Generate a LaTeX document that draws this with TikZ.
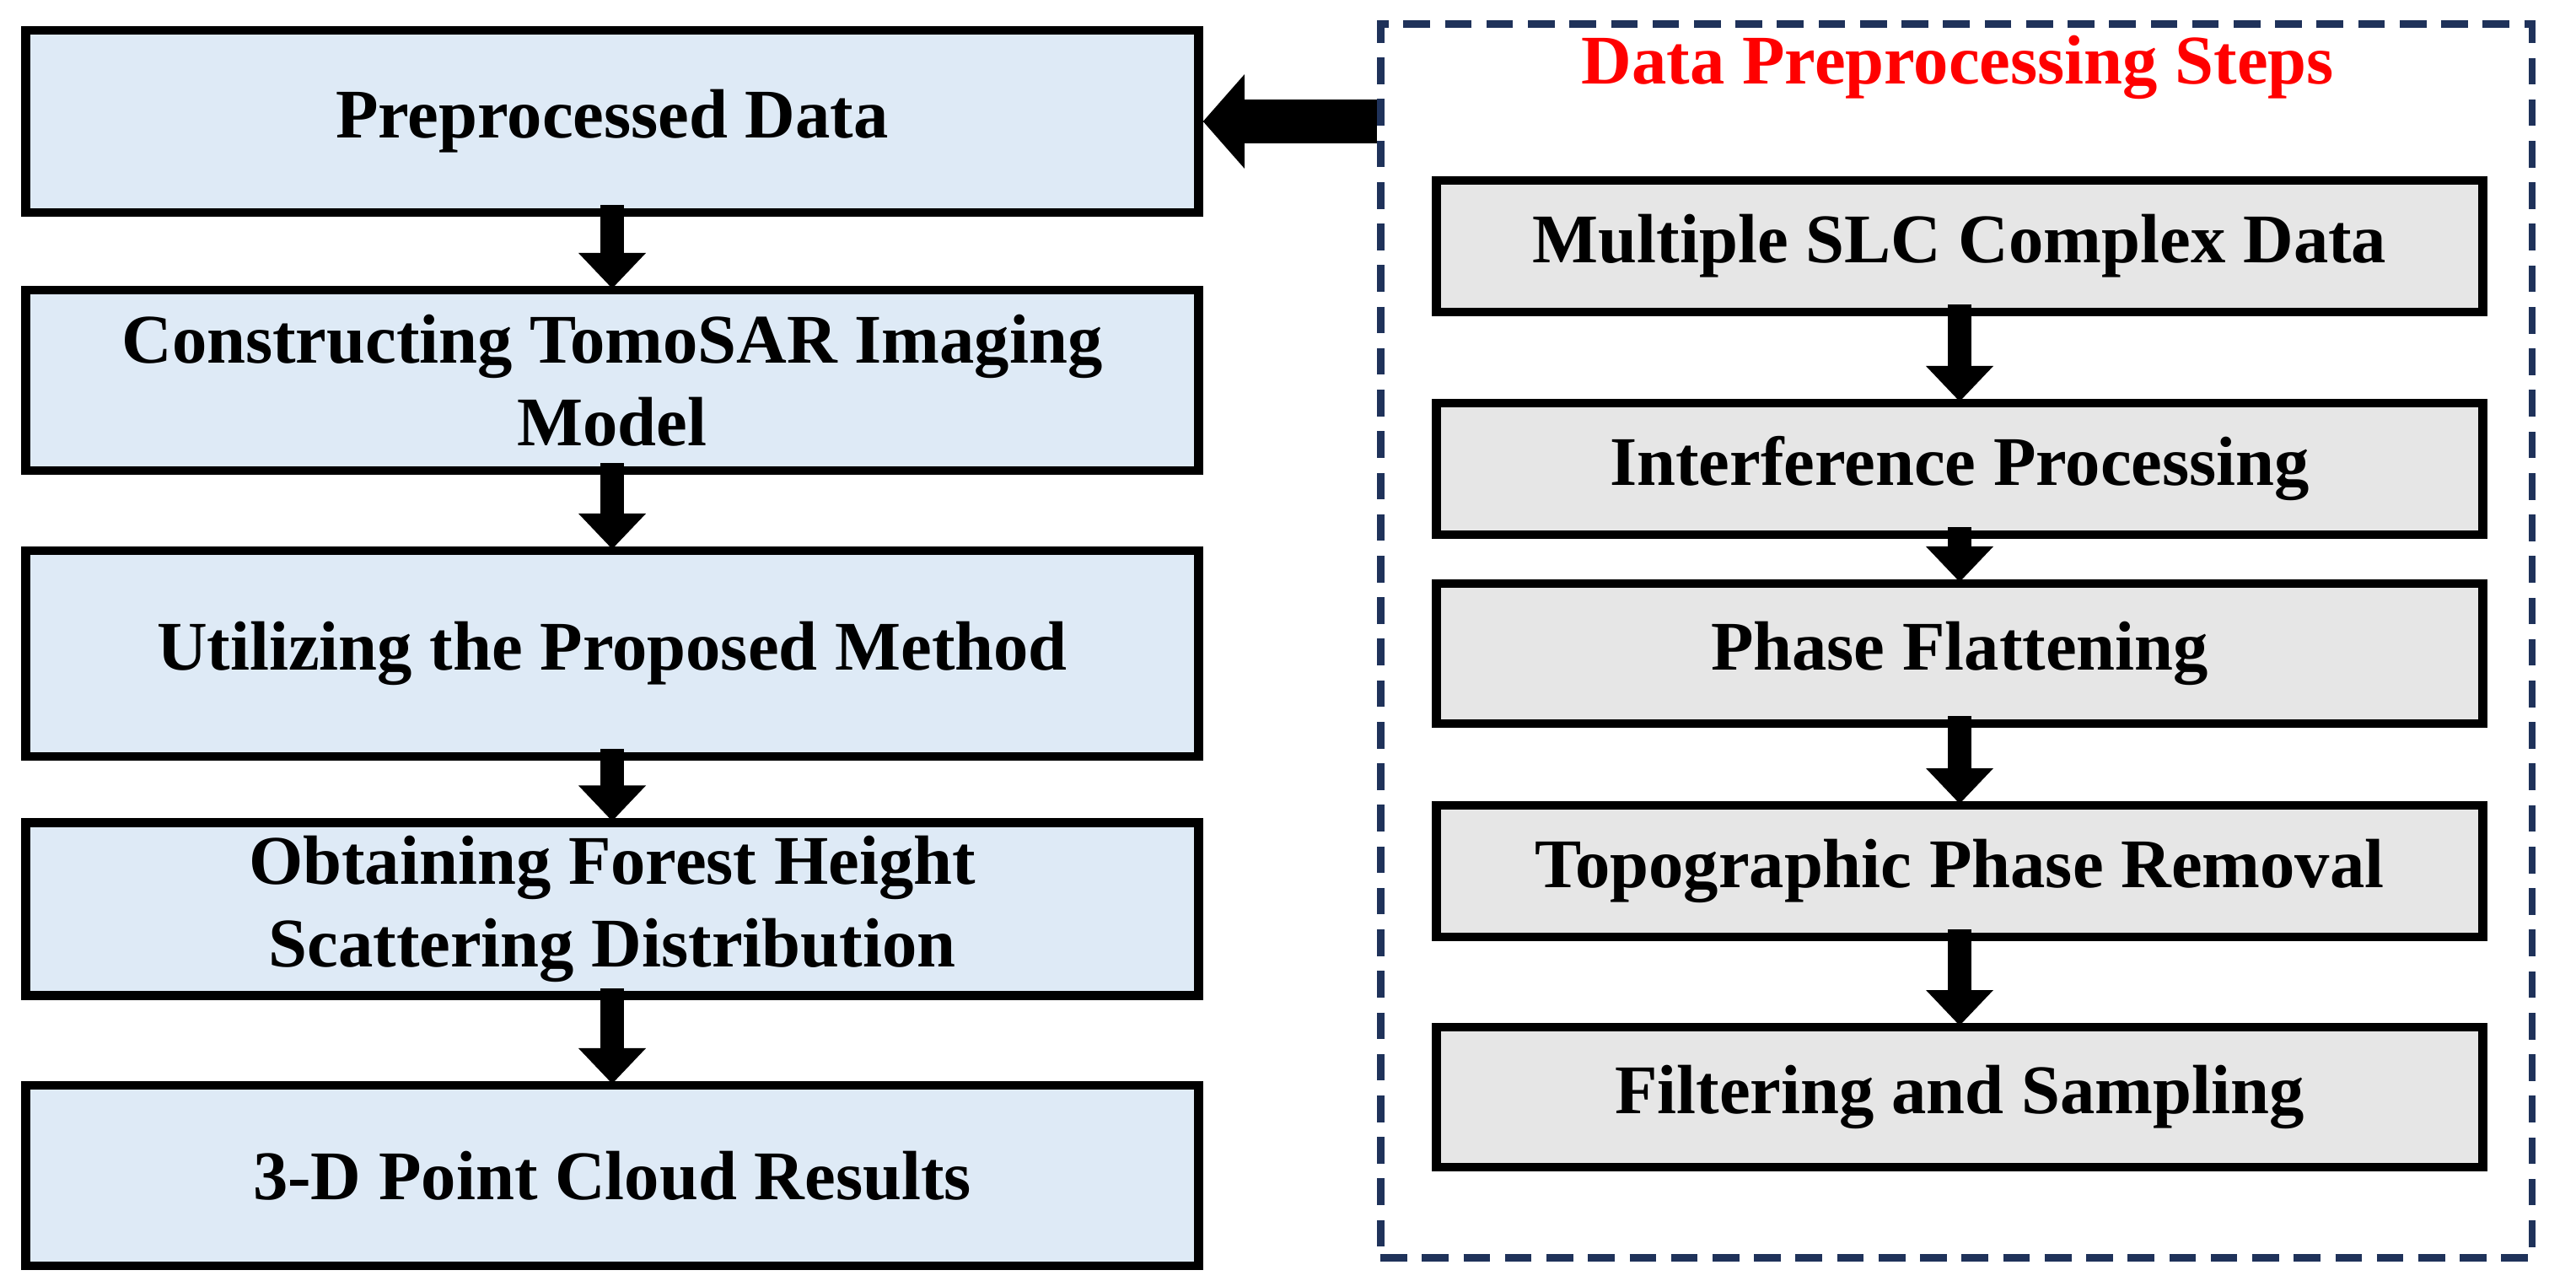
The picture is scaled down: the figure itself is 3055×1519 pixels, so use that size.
\documentclass[tikz,border=0pt]{standalone}
\usepackage{fontspec}
\setmainfont{Liberation Serif}
\usetikzlibrary{positioning,arrows.meta}
\definecolor{stepblue}{RGB}{222,234,246}
\definecolor{stepgray}{RGB}{230,230,230}
\definecolor{framenavy}{RGB}{31,50,90}

\begin{document}
\begin{tikzpicture}[x=0.01cm,y=-0.01cm,
    stage/.style={rectangle,draw=black,line width=3pt,fill=stepblue,align=center,
      font=\fontsize{23.5}{28}\selectfont\bfseries,minimum width=13.9cm},
    prep/.style={rectangle,draw=black,line width=3pt,fill=stepgray,align=center,
      font=\fontsize{23.5}{28}\selectfont\bfseries,minimum width=12.4cm,minimum height=1.56cm},
    arrow/.style={line width=8pt,draw=black,-{Triangle[width=22pt,length=12pt]}}]
    \useasboundingbox (0,0) rectangle (3055,1519);

    % processing chain
    \node[stage,minimum height=2.16cm] (pre) at (726,144) {Preprocessed Data};
    \node[stage,minimum height=2.14cm] (model) at (726,451) {Constructing TomoSAR Imaging\\Model};
    \node[stage,minimum height=2.44cm] (method) at (726,775) {Utilizing the Proposed Method};
    \node[stage,minimum height=2.05cm] (height) at (726,1078) {Obtaining Forest Height\\Scattering Distribution};
    \node[stage,minimum height=2.14cm] (cloud) at (726,1394) {3-D Point Cloud Results};

    % preprocessing steps
    \node[font=\fontsize{23.5}{28}\selectfont\bfseries,text=red] (title) at (2322,80) {Data Preprocessing Steps};
    \node[prep] (slc) at (2324,292) {Multiple SLC Complex Data};
    \node[prep] (interf) at (2324,556) {Interference Processing};
    \node[prep,minimum height=1.66cm] (flat) at (2324,775) {Phase Flattening};
    \node[prep] (topo) at (2324,1033) {Topographic Phase Removal};
    \node[prep,minimum height=1.66cm] (filt) at (2324,1301) {Filtering and Sampling};

    \node[draw=framenavy,line width=2.5pt,dash pattern=on 9pt off 5pt,
      minimum width=13.65cm,minimum height=14.62cm] (frame) at (2320,760) {};

    \foreach \a/\b in {pre/model,model/method,method/height,height/cloud,
                       slc/interf,interf/flat,flat/topo,topo/filt}
      \draw[arrow] ([yshift=4pt]\a.south) -- ([yshift=-1pt]\b.north);

    \draw[line width=15pt,-{Triangle[width=31pt,length=14pt]}]
      (frame.west |- pre.east) -- (pre.east);
\end{tikzpicture}
\end{document}
